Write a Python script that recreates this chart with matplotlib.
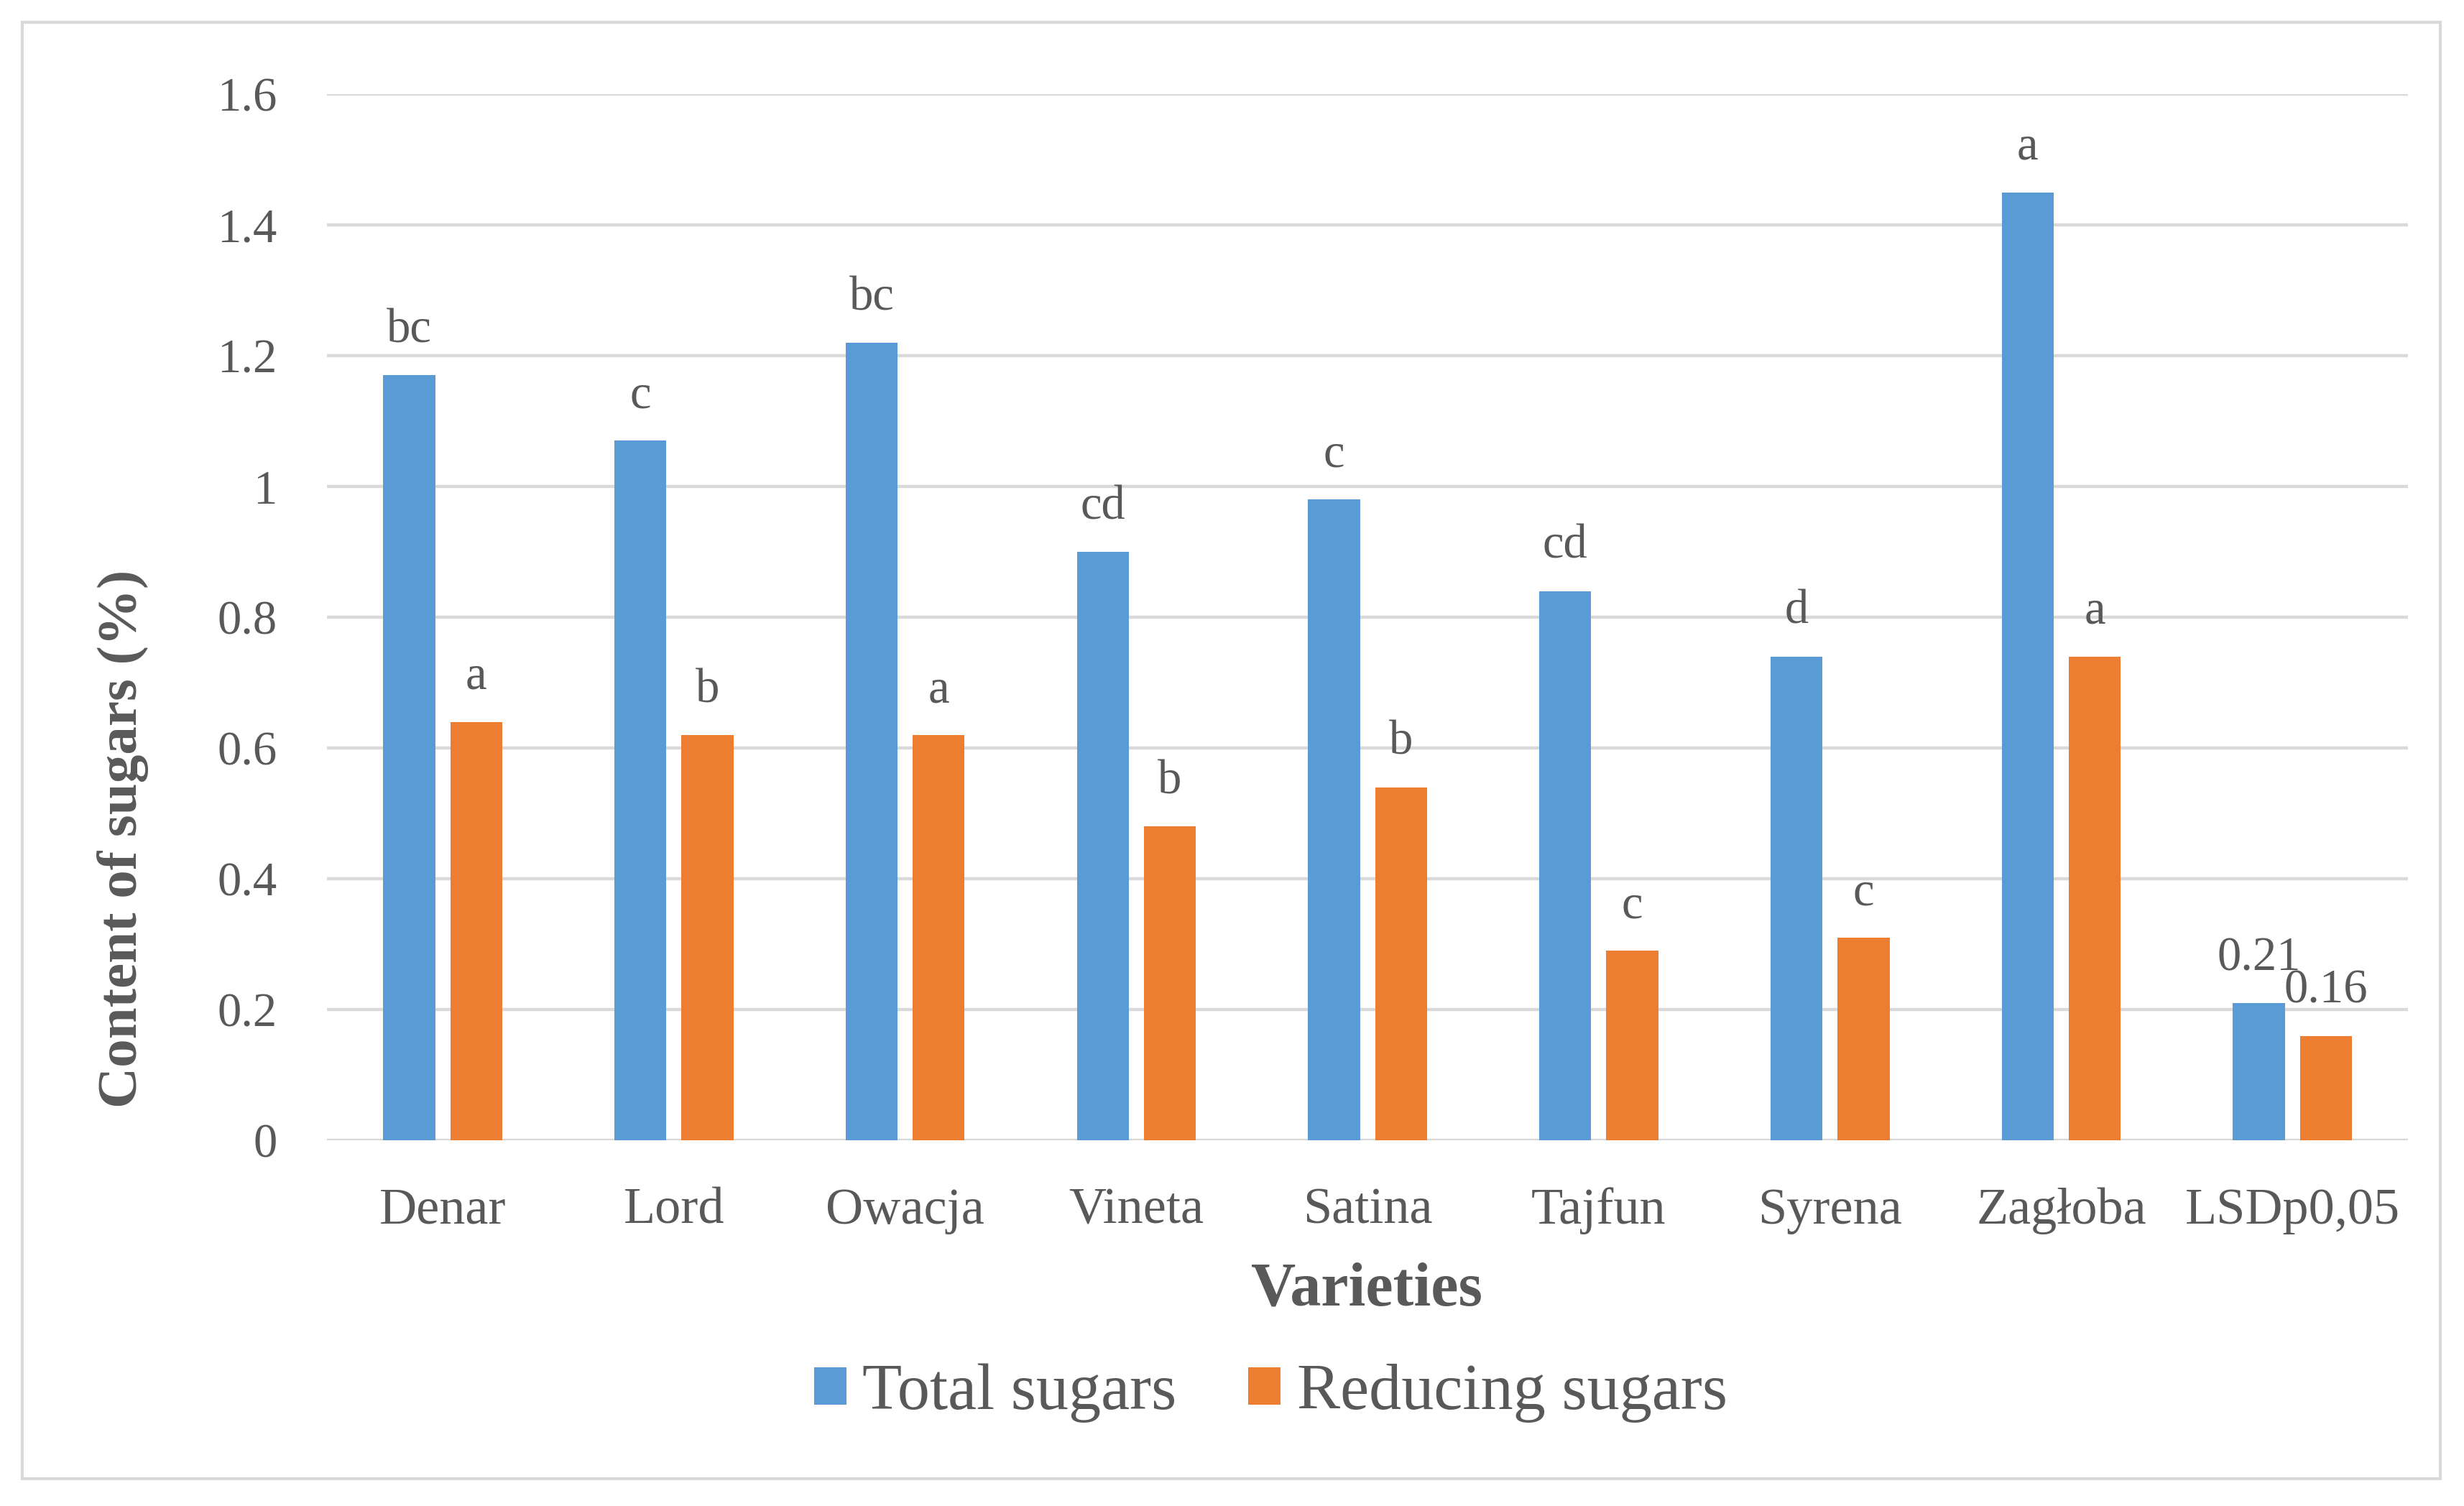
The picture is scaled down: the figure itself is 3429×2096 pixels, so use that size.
import matplotlib
matplotlib.use("Agg")
import matplotlib.pyplot as plt
import numpy as np
from matplotlib.patches import Rectangle

# Данные
varieties = ["Denar", "Lord", "Owacja", "Vineta", "Satina", "Tajfun", "Syrena", "Zagłoba", "LSDp0,05"]
total_sugars = [1.17, 1.07, 1.22, 0.90, 0.98, 0.84, 0.74, 1.45, 0.21]
reducing_sugars = [0.64, 0.62, 0.62, 0.48, 0.54, 0.29, 0.31, 0.74, 0.16]
total_labels = ["bc", "c", "bc", "cd", "c", "cd", "d", "a", "0.21"]
reducing_labels = ["a", "b", "a", "b", "b", "c", "c", "a", "0.16"]
y_ticks = [0, 0.2, 0.4, 0.6, 0.8, 1, 1.2, 1.4, 1.6]

BLUE = "#5B9BD5"
ORANGE = "#ED7D31"
TEXT = "#595959"
GRID = "#D9D9D9"

plt.rcParams["font.family"] = ["Liberation Serif", "DejaVu Serif"]

fig = plt.figure(figsize=(34.30, 20.96), dpi=100)
ax = fig.add_axes([0.1327, 0.2427, 0.8443, 0.6948])

x = np.arange(len(varieties))
w = 0.225
off = 0.145
ax.bar(x - off, total_sugars, w, color=BLUE, label="Total sugars", zorder=3)
ax.bar(x + off, reducing_sugars, w, color=ORANGE, label="Reducing sugars", zorder=3)

# Буквенные обозначения над столбцами
for xi, v, lab in zip(x, total_sugars, total_labels):
    ax.annotate(lab, (xi - off, v), xytext=(0, 33), textcoords="offset points",
                ha="center", va="baseline", fontsize=48, color=TEXT)
for xi, v, lab in zip(x, reducing_sugars, reducing_labels):
    ax.annotate(lab, (xi + off, v), xytext=(0, 33), textcoords="offset points",
                ha="center", va="baseline", fontsize=48, color=TEXT)

ax.set_xlim(-0.5, len(varieties) - 0.5)
ax.set_ylim(0, 1.6)
ax.set_yticks(y_ticks)
ax.set_yticklabels([f"{t:g}" for t in y_ticks])
ax.set_xticks(x)
ax.set_xticklabels(varieties)
ax.tick_params(axis="y", length=0, pad=50, labelsize=48, labelcolor=TEXT)
ax.tick_params(axis="x", length=0, pad=47, labelsize=52, labelcolor=TEXT)
ax.grid(axis="y", color=GRID, linewidth=3.2, zorder=0)
for s in ax.spines.values():
    s.set_visible(False)

fig.text(0.5545, 0.143, "Varieties", ha="center", va="center",
         fontsize=62, fontweight="bold", color=TEXT)
fig.text(0.050, 0.443, "Content of sugars (%)", ha="center", va="center",
         rotation=90, fontsize=57, fontweight="bold", color=TEXT)

fig.legend(loc="center", bbox_to_anchor=(0.5155, 0.075), ncol=2, frameon=False,
           fontsize=65, labelcolor=TEXT, handlelength=0.5, handleheight=0.5,
           handletextpad=0.25, columnspacing=1.1)

# Рамка вокруг всей диаграммы
fig.patches.append(Rectangle((0.009, 0.018), 0.981, 0.967, transform=fig.transFigure,
                             fill=False, edgecolor=GRID, linewidth=3))

fig.savefig("out.png", dpi=100, facecolor="white")
